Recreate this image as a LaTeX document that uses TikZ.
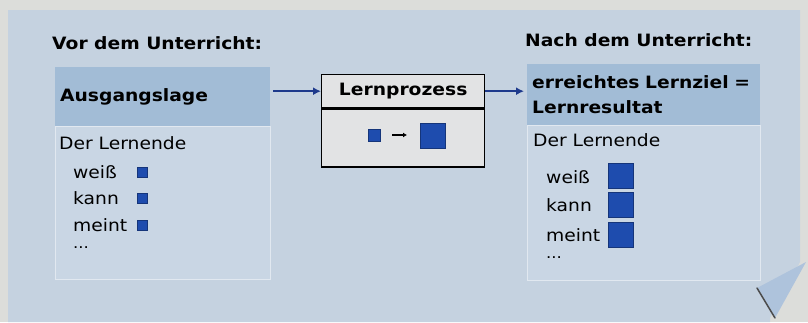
\documentclass[tikz,border=0pt]{standalone}
\usepackage{fontspec}
\setmainfont[FakeStretch=1.1]{DejaVu Sans}
\usetikzlibrary{positioning,arrows.meta}
\definecolor{paper}{HTML}{DCDDDA}
\definecolor{pagebg}{HTML}{C5D2E0}
\definecolor{headbg}{HTML}{A2BCD6}
\definecolor{bodybg}{HTML}{C9D6E4}
\definecolor{sqblue}{HTML}{1E4CAE}
\definecolor{procbg}{HTML}{E2E3E4}
\definecolor{arrblue}{HTML}{1E3A8C}
\definecolor{foldbg}{HTML}{AEC3DC}

\begin{document}
\begin{tikzpicture}[x=1pt, y=-1pt,
    every node/.style={font=\fontsize{17}{25}\selectfont},
    head/.style={anchor=north west, fill=headbg, inner xsep=5pt,
        align=left, font=\fontsize{17}{25}\selectfont\bfseries},
    body/.style={anchor=north west, fill=bodybg, draw=white!45!bodybg, line width=0.8pt},
    proc/.style={anchor=north west, fill=procbg, draw=black, line width=1.4pt,
        minimum width=163pt},
    item/.style={anchor=west, inner sep=0pt},
    sq/.style={fill=sqblue, draw=sqblue!70!black, inner sep=0pt},
    arr/.style={-{Latex[length=8pt,width=8pt]}, arrblue, line width=2pt}]
    % paper and card
    \fill[paper] (0,0) rectangle (808,322);
    \fill[pagebg] (8,10) -- (800,10) -- (800,262) -- (770,318) -- (770,322) -- (8,322) -- cycle;
    \fill[foldbg] (757,288) -- (806,262) -- (775,318) -- cycle;
    \draw[gray!60!black, line width=1.5pt, line cap=round] (757,288) -- (775,318);

    % titles
    \node[item, font=\fontsize{17}{25}\selectfont\bfseries] (vor) at (52,43) {Vor dem Unterricht:};
    \node[item, font=\fontsize{17}{25}\selectfont\bfseries] (nach) at (525,40) {Nach dem Unterricht:};

    % left column
    \node[head, text width=205pt, minimum height=59pt] (ausgang) at (55,67) {Ausgangslage};
    \node[body, minimum width=215pt, minimum height=153pt] (vorher) at (ausgang.south west) {};
    \node[item] (lernv) at (59,143) {Der Lernende};
    \node[item] (weissv) at (73,172) {weiß};
    \node[item] (kannv) at (73,198) {kann};
    \node[item] (meintv) at (73,225) {meint};
    \node[item, font=\fontsize{15}{18}\selectfont] (dotsv) at (73,248) {...};
    \foreach \y/\n in {172/a, 198/b, 225/c}
        \node[sq, minimum size=10pt] (sv\n) at (142,\y) {};

    % middle
    \node[proc, minimum height=33pt, font=\fontsize{17}{25}\selectfont\bfseries] (proz) at (321,74) {Lernprozess};
    \node[proc, minimum height=58pt] (prozbody) at (proz.south west) {};
    \node[sq, minimum size=12pt] (klein) at (374,135) {};
    \node[sq, minimum size=25pt] (gross) at (433,135.5) {};
    \draw[-{Latex[length=4pt,width=5pt]}, line width=1.8pt] (392,135) -- (407,135);

    % right column
    \node[head, text width=223pt, minimum height=61pt] (ziel) at (527,64) {erreichtes Lernziel =\\Lernresultat};
    \node[body, minimum width=233pt, minimum height=155pt] (nachher) at (ziel.south west) {};
    \node[item] (lernn) at (533,140) {Der Lernende};
    \node[item] (weissn) at (546,177) {weiß};
    \node[item] (kannn) at (546,205) {kann};
    \node[item] (meintn) at (546,235) {meint};
    \node[item, font=\fontsize{15}{18}\selectfont] (dotsn) at (546,258) {...};
    \foreach \y/\n in {175.5/a, 204.5/b, 234.5/c}
        \node[sq, minimum size=25pt] (sn\n) at (620.5,\y) {};

    % connectors
    \draw[arr, shorten <=3pt] (ausgang.east |- proz.west) -- (proz.west);
    \draw[arr, shorten >=3pt] (proz.east) -- (ziel.west |- proz.east);
\end{tikzpicture}
\end{document}
